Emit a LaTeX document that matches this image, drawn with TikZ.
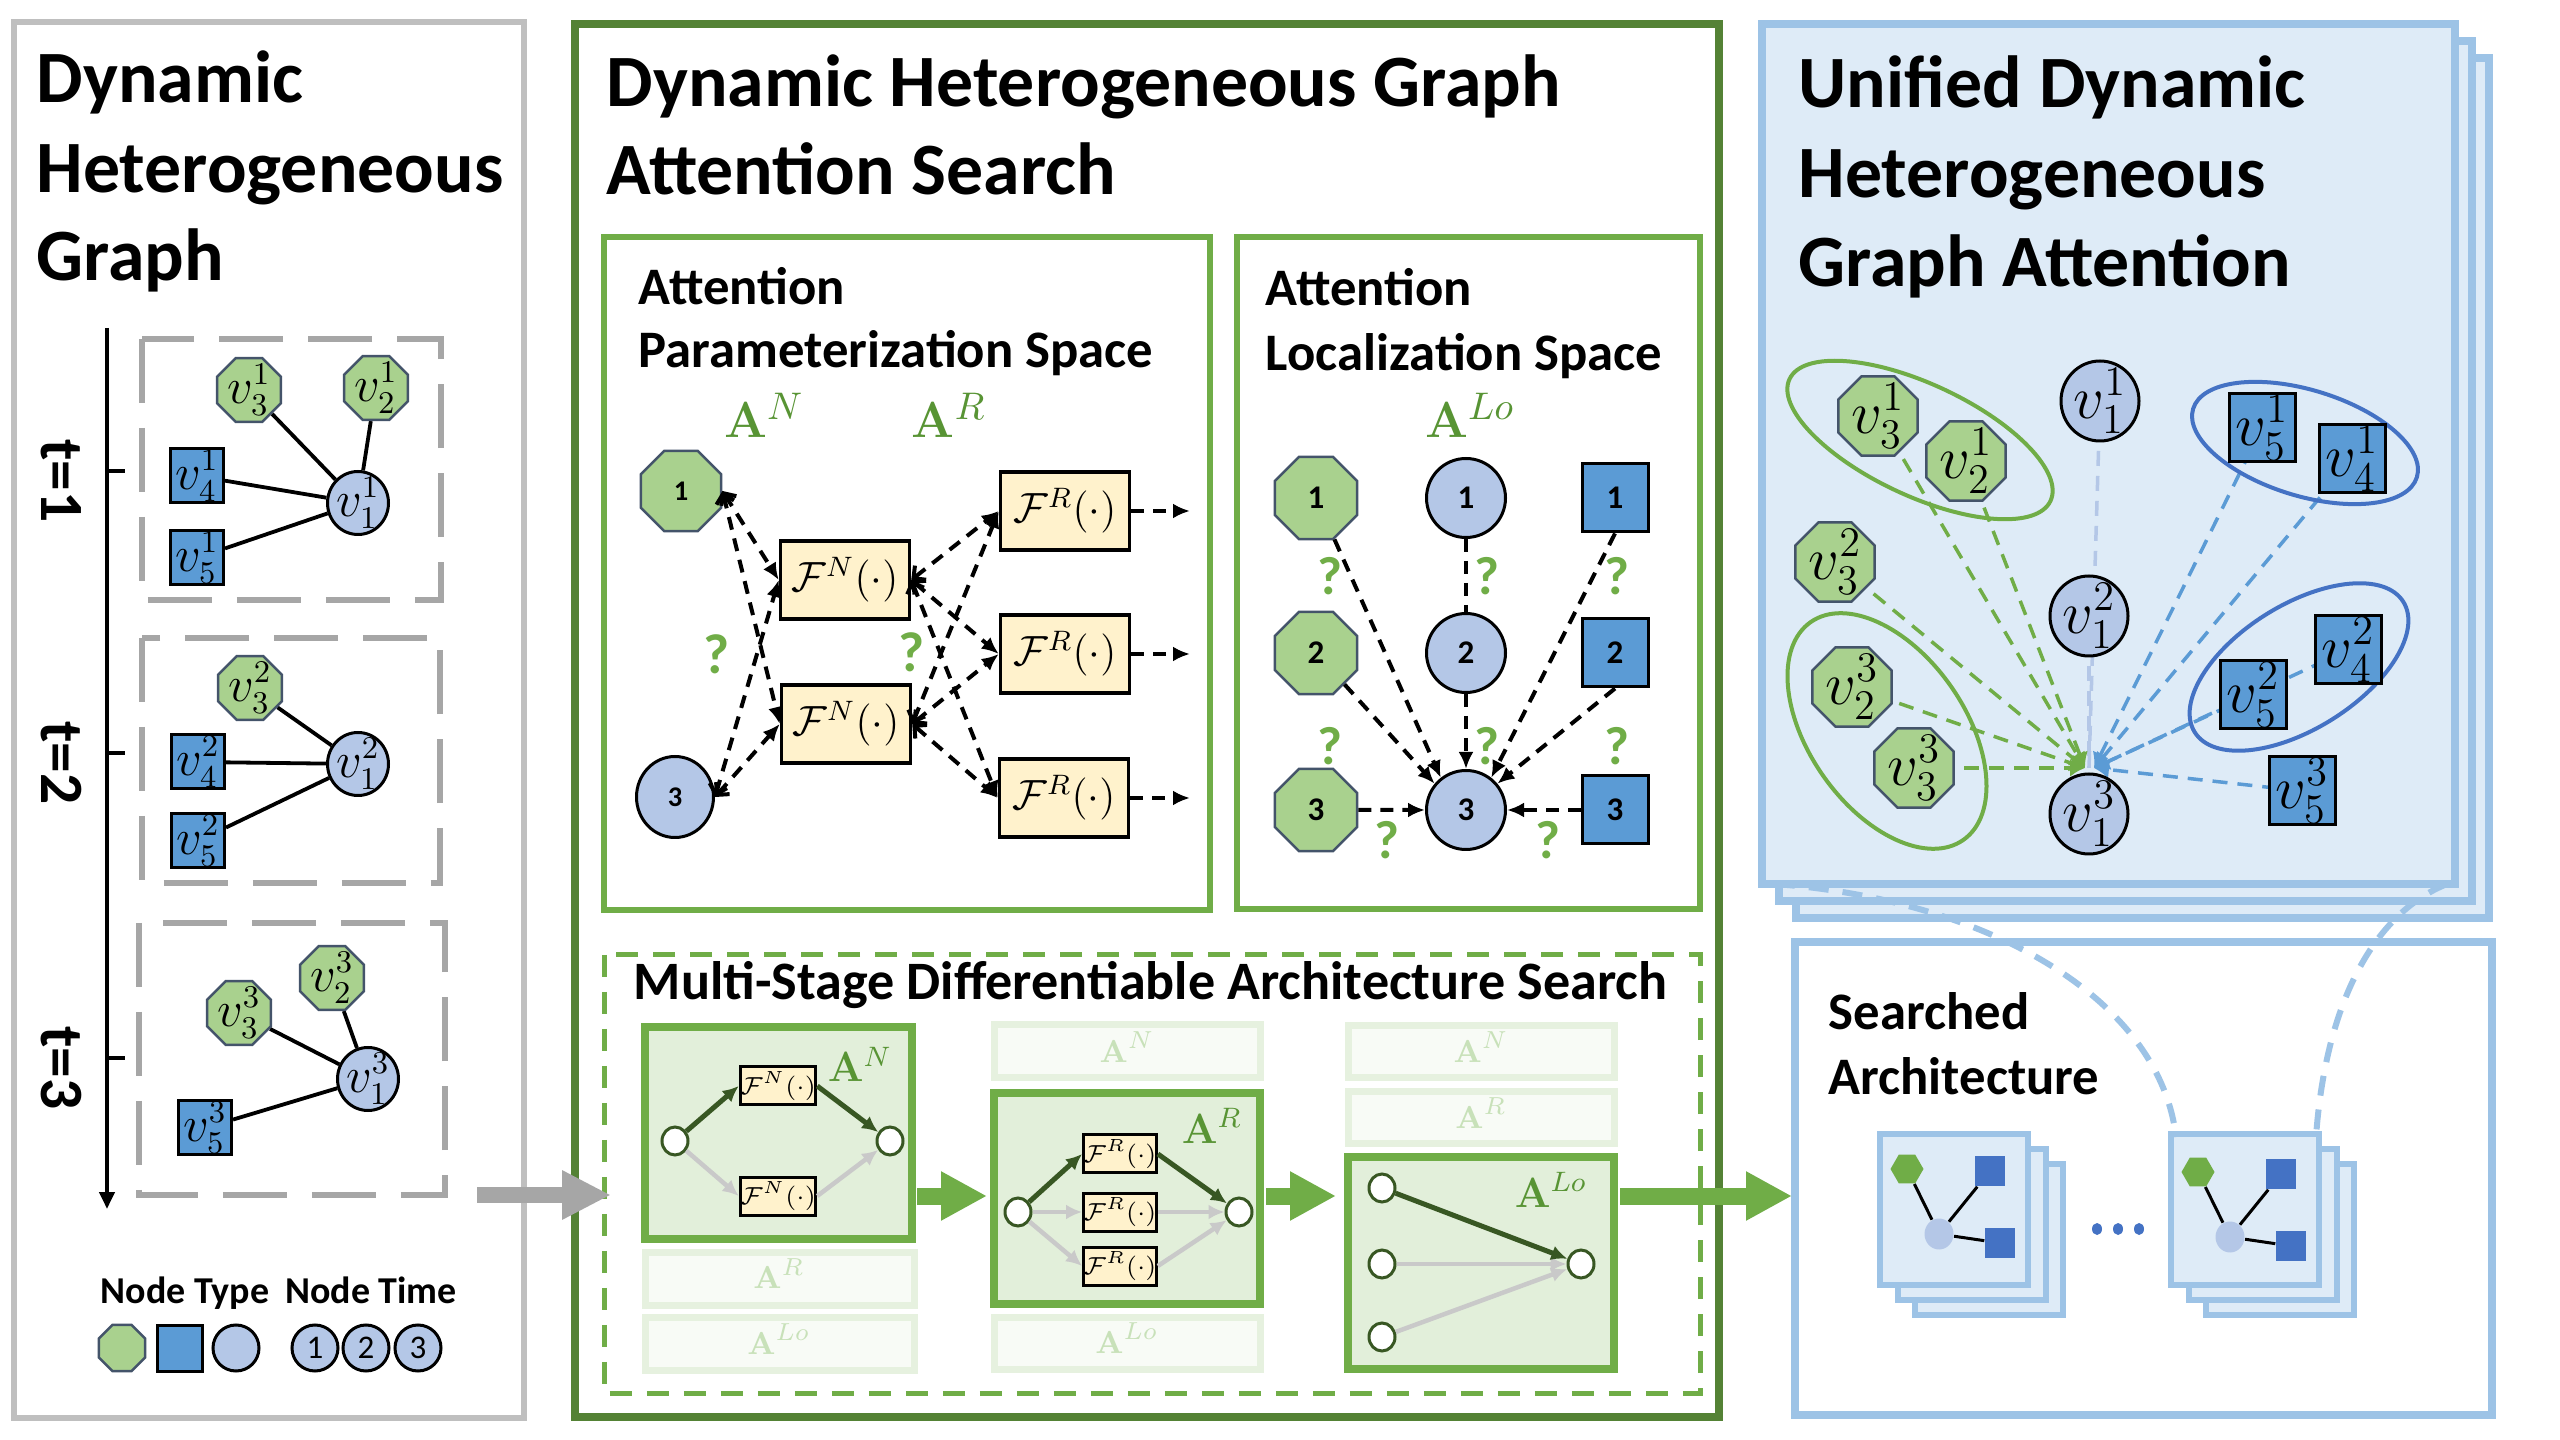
\documentclass[tikz,border=0pt]{standalone}
\usepackage{amsmath}
\usepackage{amssymb}
\usepackage[no-math]{fontspec}
\setmainfont{Carlito}
\usepackage{xcolor}
\usepackage{tikz}
\usetikzlibrary{positioning, calc, arrows.meta, shapes.geometric}

\definecolor{panelgray}{RGB}{191,191,191}
\definecolor{dashgray}{RGB}{166,166,166}
\definecolor{octfill}{RGB}{169,209,142}
\definecolor{octline}{RGB}{68,84,106}
\definecolor{circfill}{RGB}{180,199,231}
\definecolor{sqfill}{RGB}{91,155,213}
\definecolor{fnfill}{RGB}{255,242,204}
\definecolor{midgreen}{RGB}{84,130,53}
\definecolor{subgreen}{RGB}{112,173,71}
\definecolor{stagefill}{RGB}{226,239,218}
\definecolor{darkgreen}{RGB}{56,87,35}
\definecolor{archgray}{RGB}{201,201,201}
\definecolor{fadeline}{RGB}{230,241,223}
\definecolor{fadefill}{RGB}{248,251,246}
\definecolor{fadetext}{RGB}{200,225,185}
\definecolor{pagefill}{RGB}{222,235,247}
\definecolor{pageline}{RGB}{157,195,230}
\definecolor{groupblue}{RGB}{68,114,196}
\definecolor{labelgreen}{RGB}{88,148,52}

\pgfdeclarelayer{back}
\pgfdeclarelayer{links}
\pgfsetlayers{back,links,main}

\tikzset{
  bigtitle/.style={anchor=base west, inner sep=0pt, font=\fontsize{21}{24}\selectfont\bfseries},
  midtitle/.style={anchor=base west, inner sep=0pt, font=\fontsize{15}{17}\selectfont\bfseries},
  legendtitle/.style={anchor=base, inner sep=0pt, font=\fontsize{10.8}{12}\selectfont\bfseries},
  timelabel/.style={rotate=-90, inner sep=0pt, font=\fontsize{17.5}{20}\selectfont\bfseries},
  qmark/.style={inner sep=0pt, text=subgreen, font=\fontsize{16}{18}\selectfont\bfseries},
  alabel/.style={anchor=base, inner sep=0pt, text=labelgreen, font=\fontsize{15.3}{17}\selectfont},
  stagelabel/.style={anchor=base, inner sep=0pt, text=labelgreen, font=\fontsize{11.6}{13}\selectfont},
  fadelabel/.style={anchor=base, inner sep=0pt, text=fadetext, font=\fontsize{9.5}{11}\selectfont},
  smallv/.style={font=\fontsize{13.5}{15}\selectfont},
  bigv/.style={font=\fontsize{17.8}{20}\selectfont},
  octnode/.style={regular polygon, regular polygon sides=8, draw=octline, fill=octfill, line width=0.25mm, inner sep=-1.5mm},
  cirnode/.style={ellipse, draw=black, fill=circfill, line width=0.3mm, inner sep=-2mm},
  sqrnode/.style={rectangle, draw=black, fill=sqfill, line width=0.3mm, inner sep=-1mm},
  fnbox/.style={rectangle, draw=black, fill=fnfill, line width=0.35mm, inner sep=0pt, minimum width=12.9mm, minimum height=7.8mm, font=\fontsize{12}{14}\selectfont},
  fsmall/.style={rectangle, draw=black, fill=fnfill, line width=0.3mm, inner sep=0pt, minimum width=6.3mm, minimum height=3.8mm, font=\fontsize{6.6}{7}\selectfont},
  stnode/.style={ellipse, draw=darkgreen, fill=white, line width=0.3mm, inner sep=0pt, minimum width=2.6mm, minimum height=2.8mm},
  minihex/.style={regular polygon, regular polygon sides=6, fill=subgreen, inner sep=0pt, minimum size=3.3mm},
  minisq/.style={rectangle, fill=groupblue, inner sep=0pt, minimum size=3mm},
  miniell/.style={ellipse, fill=circfill, inner sep=0pt, minimum width=2.9mm, minimum height=3.1mm},
  dhgframe/.style={draw=panelgray, line width=0.65mm},
  snapframe/.style={draw=dashgray, line width=0.55mm, dash pattern=on 6.4mm off 2.5mm},
  searchframe/.style={draw=midgreen, line width=0.8mm},
  spaceframe/.style={draw=subgreen, line width=0.65mm},
  stageframe/.style={draw=subgreen, line width=0.5mm, dash pattern=on 2.2mm off 1.5mm},
  stagebox/.style={draw=subgreen, fill=stagefill, line width=0.75mm},
  fadebox/.style={draw=fadeline, fill=fadefill, line width=0.7mm},
  pageframe/.style={draw=pageline, fill=pagefill, line width=0.75mm},
  archframe/.style={draw=pageline, fill=white, line width=0.75mm},
  minipage/.style={draw=pageline, fill=pagefill, line width=0.65mm},
  graphedge/.style={draw=black, line width=0.38mm},
  timeline/.style={draw=black, line width=0.4mm, -{Triangle[length=1.7mm, width=1.5mm]}},
  qedge/.style={line width=0.4mm, dash pattern=on 1.3mm off 0.9mm, {Straight Barb[length=0.9mm, width=1.8mm]}-{Latex[length=1.7mm, width=1.5mm]}},
  ledge/.style={line width=0.4mm, dash pattern=on 1.3mm off 0.9mm, -{Latex[length=1.7mm, width=1.5mm]}},
  pickarrow/.style={draw=darkgreen, line width=0.5mm, -{Latex[length=1.6mm, width=1.5mm]}},
  droparrow/.style={draw=archgray, line width=0.45mm, -{Latex[length=1.6mm, width=1.5mm]}},
  flowarrow/.style={draw=subgreen, line width=1.7mm, -{Triangle[length=4.6mm, width=4.6mm]}},
  feedarrow/.style={draw=dashgray, line width=1.6mm, -{Triangle[length=4.9mm, width=4.6mm]}},
  greenlink/.style={draw=subgreen, line width=0.35mm, dash pattern=on 1.5mm off 1mm, -{Latex[length=1.5mm, width=1.8mm]}},
  bluelink/.style={draw=sqfill, line width=0.35mm, dash pattern=on 1.5mm off 1mm, -{Latex[length=1.5mm, width=1.8mm]}},
  palelink/.style={draw=circfill, line width=0.35mm, dash pattern=on 1.5mm off 1mm},
  zoomcurve/.style={draw=pageline, line width=0.6mm, dash pattern=on 2mm off 1.4mm},
}

\begin{document}
\begin{tikzpicture}[x=0.1mm, y=-0.1mm]
\useasboundingbox (0,0) rectangle (2560,1440);

% frames and boxes
\begin{pgfonlayer}{back}
  \fill[white] (0,0) rectangle (2560,1440);
  \draw[dhgframe] (14,22) rectangle (524,1418);
  \draw[snapframe] (142,339) rectangle (441,600);
  \draw[snapframe] (142,638) rectangle (440,883);
  \draw[snapframe] (139,923) rectangle (445,1195);
  \draw[searchframe] (575,24) rectangle (1719,1417);
  \draw[spaceframe] (604,237) rectangle (1210,910);
  \draw[spaceframe] (1237,237) rectangle (1700,909);
  \draw[stageframe] (604,955) rectangle (1700,1393);
  \draw[stagebox] (645,1027) rectangle (912,1239);
  \draw[fadebox] (645,1252) rectangle (914,1305);
  \draw[fadebox] (645,1317) rectangle (914,1370);
  \draw[fadebox] (994,1025) rectangle (1260,1078);
  \draw[stagebox] (994,1093) rectangle (1260,1304);
  \draw[fadebox] (994,1317) rectangle (1260,1369);
  \draw[fadebox] (1348,1026) rectangle (1614,1078);
  \draw[fadebox] (1348,1092) rectangle (1614,1144);
  \draw[stagebox] (1348,1157) rectangle (1614,1369);
  \foreach \d in {34,17,0}
    \draw[pageframe] (1762+\d,24+\d) rectangle (2455+\d,884+\d);
  \draw[archframe] (1795,942) rectangle (2492,1415);
  \foreach \sx in {0,291}
    \foreach \dx/\dy in {35/30,18/15,0/0}
      \draw[minipage] (1880+\sx+\dx,1134+\dy) rectangle (2028+\sx+\dx,1285+\dy);
\end{pgfonlayer}

% dynamic heterogeneous graph
\node[bigtitle] (dhgA) at (36,103) {Dynamic};
\node[bigtitle] (dhgB) at (36,193) {Heterogeneous};
\node[bigtitle] (dhgC) at (36,281) {Graph};

\coordinate (tTop) at (107,328);
\coordinate (tEnd) at (107,1209);
\draw[timeline] (tTop) -- (tEnd);
\foreach \y/\t in {471/1,753/2,1058/3}{
  \draw[line width=0.4mm] (107,\y) -- (125,\y);
  \node[timelabel] (time\t) at (61,\y+10) {t=\t};
}

\node[octnode, smallv, minimum size=6.9mm] (g1v3) at (249,390) {$v_3^1$};
\node[octnode, smallv, minimum size=6.9mm] (g1v2) at (376,388) {$v_2^1$};
\node[sqrnode, smallv, minimum width=5.3mm, minimum height=5.4mm] (g1v4) at (197,476) {$v_4^1$};
\node[sqrnode, smallv, minimum width=5.3mm, minimum height=5.4mm] (g1v5) at (197,558) {$v_5^1$};
\node[cirnode, smallv, minimum width=6.1mm, minimum height=6.3mm] (g1v1) at (358,503) {$v_1^1$};

\node[octnode, smallv, minimum size=6.9mm] (g2v3) at (250,688) {$v_3^2$};
\node[sqrnode, smallv, minimum width=5.3mm, minimum height=5.4mm] (g2v4) at (198,762) {$v_4^2$};
\node[sqrnode, smallv, minimum width=5.3mm, minimum height=5.4mm] (g2v5) at (198,841) {$v_5^2$};
\node[cirnode, smallv, minimum width=6.1mm, minimum height=6.3mm] (g2v1) at (358,764) {$v_1^2$};

\node[octnode, smallv, minimum size=6.9mm] (g3v3) at (239,1013) {$v_3^3$};
\node[octnode, smallv, minimum size=6.9mm] (g3v2) at (332,978) {$v_2^3$};
\node[cirnode, smallv, minimum width=6.1mm, minimum height=6.3mm] (g3v1) at (368,1079) {$v_1^3$};
\node[sqrnode, smallv, minimum width=5.3mm, minimum height=5.4mm] (g3v5) at (205,1128) {$v_5^3$};

\begin{pgfonlayer}{links}
  \foreach \n in {3,2,4,5} \draw[graphedge] (g1v\n) -- (g1v1);
  \foreach \n in {3,4,5} \draw[graphedge] (g2v\n) -- (g2v1);
  \foreach \n in {3,2,5} \draw[graphedge] (g3v\n) -- (g3v1);
\end{pgfonlayer}

% legend
\node[legendtitle] (ntype) at (185,1303) {Node Type};
\node[legendtitle] (ntime) at (371,1303) {Node Time};
\node[octnode, minimum size=5mm] (lgOct) at (122,1348) {};
\node[sqrnode, minimum width=4.5mm, minimum height=4.6mm] (lgSq) at (180,1348) {};
\node[cirnode, minimum size=4.6mm] (lgCir) at (236,1348) {};
\foreach \i/\x in {1/315,2/366,3/418}
  \node[cirnode, minimum size=4.6mm, font=\fontsize{9.4}{10}\selectfont] (lgT\i) at (\x,1348) {\i};

\coordinate (dgOut) at (477,1195);
\coordinate (dgIn) at (611,1195);
\draw[feedarrow] (dgOut) -- (dgIn);

% graph attention search
\node[bigtitle] (dhgasA) at (606,107) {Dynamic Heterogeneous Graph};
\node[bigtitle] (dhgasB) at (606,195) {Attention Search};

% parameterization space
\node[midtitle] (apsA) at (638,305) {Attention};
\node[midtitle] (apsB) at (638,368) {Parameterization Space};
\node[alabel] (labAN) at (764,438) {$\mathbf{A}^{N}$};
\node[alabel] (labAR) at (949,438) {$\mathbf{A}^{R}$};

\node[octnode, minimum size=8.7mm, font=\fontsize{8.1}{9}\selectfont\bfseries] (p1) at (681,491) {1};
\node[cirnode, minimum width=7.7mm, minimum height=8.1mm, font=\fontsize{8.1}{9}\selectfont\bfseries] (p3) at (675,797) {3};
\node[fnbox] (fn1) at (845,580) {$\mathcal{F}^{N}(\cdot)$};
\node[fnbox] (fn2) at (846,724) {$\mathcal{F}^{N}(\cdot)$};
\node[fnbox] (fr1) at (1065,511) {$\mathcal{F}^{R}(\cdot)$};
\node[fnbox] (fr2) at (1065,654) {$\mathcal{F}^{R}(\cdot)$};
\node[fnbox] (fr3) at (1064,798) {$\mathcal{F}^{R}(\cdot)$};
\node[qmark] (qp1) at (717,654) {?};
\node[qmark] (qp2) at (912,652) {?};

\foreach \s in {p1,p3}
  \foreach \t in {fn1,fn2}
    \draw[qedge] (\s.east) -- (\t.west);
\foreach \s in {fn1,fn2}
  \foreach \t in {fr1,fr2,fr3}
    \draw[qedge] (\s.east) -- (\t.west);
\foreach \t/\y in {fr1/511,fr2/654,fr3/798}{
  \coordinate (out\t) at (1190,\y);
  \draw[ledge] (\t.east) -- (out\t);
}

% localization space
\node[midtitle] (alsA) at (1265,306) {Attention};
\node[midtitle] (alsB) at (1265,371) {Localization Space};
\node[alabel] (labALo) at (1470,438) {$\mathbf{A}^{Lo}$};

\foreach \i/\y in {1/498,2/653,3/810}{
  \node[octnode, minimum size=8.9mm, font=\fontsize{9.4}{10}\selectfont\bfseries] (lg\i) at (1316,\y) {\i};
  \node[cirnode, minimum width=7.9mm, minimum height=7.9mm, font=\fontsize{9.4}{10}\selectfont\bfseries] (lc\i) at (1466,\y) {\i};
  \node[sqrnode, minimum width=6.6mm, minimum height=6.8mm, font=\fontsize{9.4}{10}\selectfont\bfseries] (ls\i) at (1615,\y) {\i};
}
\draw[ledge] (lg1) -- (lc3.128);
\draw[ledge] (lg2) -- (lc3.140);
\draw[ledge] (lg3.east) -- (lc3.west);
\draw[line width=0.4mm, dash pattern=on 1.3mm off 0.9mm] (lc1.south) -- (lc2.north);
\draw[ledge] (lc2.south) -- (lc3.north);
\draw[ledge] (ls1.south) -- (lc3.52);
\draw[ledge] (ls2.south) -- (lc3.40);
\draw[ledge] (ls3.west) -- (lc3.east);
\foreach \x/\y [count=\k] in {1330/576,1487/576,1617/576,1330/746,1487/746,1617/746,1387/840,1548/840}
  \node[qmark, font=\fontsize{15.3}{17}\selectfont\bfseries] (ql\k) at (\x,\y) {?};

% multi-stage search
\node[midtitle, font=\fontsize{15.4}{17}\selectfont\bfseries] (msdas) at (633,1000) {Multi-Stage Differentiable Architecture Search};

\node[stnode] (s1in) at (675,1141) {};
\node[stnode] (s1out) at (890,1141) {};
\node[fsmall] (s1fa) at (778,1086) {$\mathcal{F}^{N}(\cdot)$};
\node[fsmall] (s1fb) at (778,1196) {$\mathcal{F}^{N}(\cdot)$};
\node[stagelabel] (s1lab) at (860,1082) {$\mathbf{A}^{N}$};
\draw[droparrow] (s1in) -- (s1fb.west);
\draw[droparrow] (s1fb.east) -- (s1out);
\draw[pickarrow] (s1in) -- (s1fa.west);
\draw[pickarrow] (s1fa.east) -- (s1out);
\node[fadelabel] (s1r) at (779,1289) {$\mathbf{A}^{R}$};
\node[fadelabel] (s1lo) at (779,1354) {$\mathbf{A}^{Lo}$};

\node[stnode] (s2in) at (1018,1212) {};
\node[stnode] (s2out) at (1239,1212) {};
\node[fsmall] (s2fa) at (1120,1154) {$\mathcal{F}^{R}(\cdot)$};
\node[fsmall] (s2fb) at (1120,1212) {$\mathcal{F}^{R}(\cdot)$};
\node[fsmall] (s2fc) at (1120,1266) {$\mathcal{F}^{R}(\cdot)$};
\node[stagelabel] (s2lab) at (1212,1143) {$\mathbf{A}^{R}$};
\foreach \f in {s2fb,s2fc}{
  \draw[droparrow] (s2in) -- (\f.west);
  \draw[droparrow] (\f.east) -- (s2out);
}
\draw[pickarrow] (s2in) -- (s2fa.west);
\draw[pickarrow] (s2fa.east) -- (s2out);
\node[fadelabel] (s2n) at (1127,1062) {$\mathbf{A}^{N}$};
\node[fadelabel] (s2lo) at (1127,1353) {$\mathbf{A}^{Lo}$};

\node[stnode] (s3a) at (1382,1188) {};
\node[stnode] (s3b) at (1382,1264) {};
\node[stnode] (s3c) at (1382,1337) {};
\node[stnode] (s3out) at (1581,1264) {};
\node[stagelabel] (s3lab) at (1551,1207) {$\mathbf{A}^{Lo}$};
\draw[droparrow] (s3b) -- (s3out);
\draw[droparrow] (s3c) -- (s3out);
\draw[pickarrow] (s3a) -- (s3out);
\node[fadelabel] (s3n) at (1481,1062) {$\mathbf{A}^{N}$};
\node[fadelabel] (s3r) at (1481,1128) {$\mathbf{A}^{R}$};

\coordinate (st1R) at (917,1196);  \coordinate (st2L) at (987,1196);
\coordinate (st2R) at (1266,1196); \coordinate (st3L) at (1336,1196);
\coordinate (st3R) at (1620,1196); \coordinate (archL) at (1792,1196);
\draw[flowarrow] (st1R) -- (st2L);
\draw[flowarrow] (st2R) -- (st3L);
\draw[flowarrow] (st3R) -- (archL);

% unified dynamic heterogeneous graph attention
\node[bigtitle] (udhgA) at (1798,108) {Unified Dynamic};
\node[bigtitle] (udhgB) at (1798,198) {Heterogeneous};
\node[bigtitle] (udhgC) at (1798,287) {Graph Attention};

\node[octnode, bigv, minimum size=8.6mm] (u31) at (1878,416) {$v_3^1$};
\node[octnode, bigv, minimum size=8.6mm] (u21) at (1966,461) {$v_2^1$};
\node[cirnode, bigv, minimum width=7.8mm, minimum height=8mm] (u11) at (2100,401) {$v_1^1$};
\node[sqrnode, bigv, minimum width=6.6mm, minimum height=6.8mm] (u51) at (2262,428) {$v_5^1$};
\node[sqrnode, bigv, minimum width=6.6mm, minimum height=6.8mm] (u41) at (2352,459) {$v_4^1$};
\node[octnode, bigv, minimum size=8.6mm] (u32) at (1835,562) {$v_3^2$};
\node[cirnode, bigv, minimum width=7.8mm, minimum height=8mm] (u12) at (2089,616) {$v_1^2$};
\node[octnode, bigv, minimum size=8.6mm] (u23) at (1852,687) {$v_2^3$};
\node[octnode, bigv, minimum size=8.6mm] (u33) at (1914,768) {$v_3^3$};
\node[cirnode, bigv, minimum width=7.8mm, minimum height=8mm] (u13) at (2089,814) {$v_1^3$};
\node[sqrnode, bigv, minimum width=6.6mm, minimum height=6.8mm] (u52) at (2253,695) {$v_5^2$};
\node[sqrnode, bigv, minimum width=6.6mm, minimum height=6.8mm] (u42) at (2348,650) {$v_4^2$};
\node[sqrnode, bigv, minimum width=6.6mm, minimum height=6.8mm] (u53) at (2302,791) {$v_5^3$};

\coordinate (hubG) at (2085,768);
\coordinate (hubB) at (2094,768);
\coordinate (hubL) at (2089,768);
\begin{pgfonlayer}{links}
  \draw[palelink] (u11.center) -- (hubL);
  \draw[palelink] (u12.center) -- (hubL);
  \foreach \n in {u31,u21,u32,u23,u33} \draw[greenlink] (\n.center) -- (hubG);
  \foreach \n in {u51,u41,u52,u42,u53} \draw[bluelink] (\n.center) -- (hubB);
  \draw[subgreen, line width=0.4mm, rotate around={-25:(1920,440)}] (1920,440) ellipse [x radius=14.4mm, y radius=5.6mm];
  \draw[subgreen, line width=0.4mm, rotate around={-55:(1887,731)}] (1887,731) ellipse [x radius=13.3mm, y radius=7.8mm];
  \draw[groupblue, line width=0.4mm, rotate around={-17:(2305,443)}] (2305,443) ellipse [x radius=11.7mm, y radius=5.3mm];
  \draw[groupblue, line width=0.4mm, rotate around={32:(2299,667)}] (2299,667) ellipse [x radius=12.3mm, y radius=6.2mm];
\end{pgfonlayer}

% searched architecture
\node[midtitle] (saA) at (1828,1030) {Searched};
\node[midtitle] (saB) at (1828,1094) {Architecture};

\foreach \k/\sx/\sy in {A/0/0,B/291/3}{
  \node[minihex] (hx\k) at (1907+\sx,1169+\sy) {};
  \node[minisq] (sqa\k) at (1990+\sx,1171+\sy) {};
  \node[minisq] (sqb\k) at (2000+\sx,1243+\sy) {};
  \node[miniell] (el\k) at (1939+\sx,1234+\sy) {};
  \begin{pgfonlayer}{links}
    \draw[graphedge, line width=0.3mm] (hx\k) -- (el\k);
    \draw[graphedge, line width=0.3mm] (sqa\k) -- (el\k);
    \draw[graphedge, line width=0.3mm] (el\k) -- (sqb\k);
  \end{pgfonlayer}
}
\foreach \i in {0,1,2}
  \fill[groupblue] (2097+21*\i,1229) ellipse [x radius=0.5mm, y radius=0.6mm];

\coordinate (capL) at (1775,884);
\coordinate (capR) at (2447,884);
\coordinate (tipL) at (2176,1137);
\coordinate (tipR) at (2316,1137);
\draw[zoomcurve] (capL) .. controls (1990,900) and (2160,1000) .. (tipL);
\draw[zoomcurve] (capR) .. controls (2370,915) and (2325,1010) .. (tipR);

\end{tikzpicture}
\end{document}
